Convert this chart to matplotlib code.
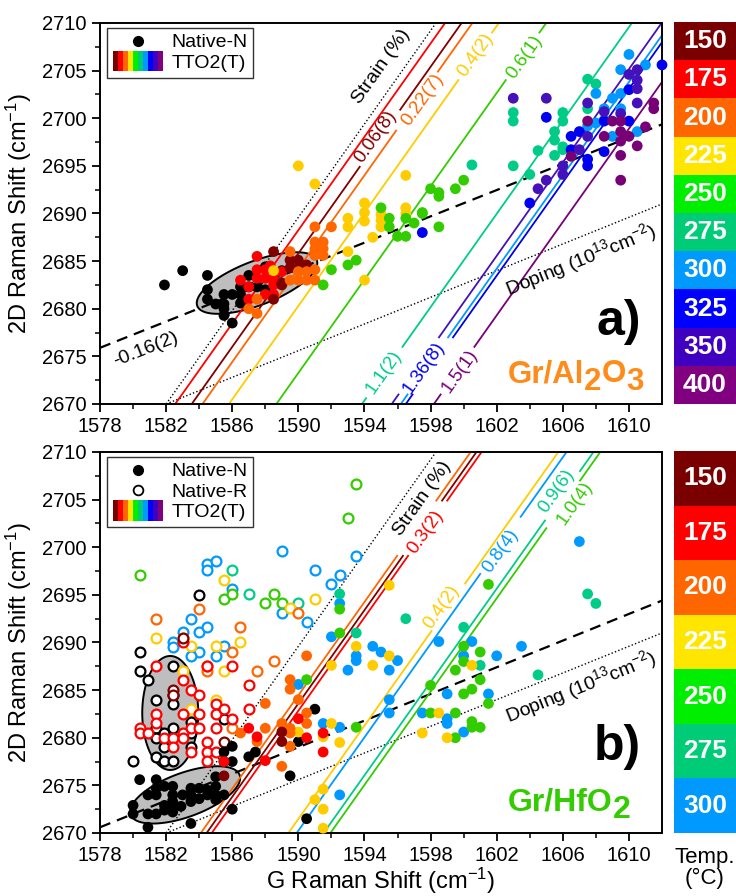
import numpy as np
import matplotlib
matplotlib.use('Agg')
import matplotlib.pyplot as plt
from matplotlib.patches import Rectangle, Polygon
from matplotlib.legend_handler import HandlerBase
from matplotlib.lines import Line2D

plt.rcParams['font.family'] = ['Liberation Sans', 'DejaVu Sans']
plt.rcParams['mathtext.fontset'] = 'custom'
plt.rcParams['mathtext.rm'] = 'Liberation Sans'
plt.rcParams['mathtext.it'] = 'Liberation Sans:italic'
plt.rcParams['mathtext.bf'] = 'Liberation Sans:bold'

# ---------------- data ----------------
XLIM = (1578, 1612)
YLIM = (2670, 2710)
xticks = [1578, 1582, 1586, 1590, 1594, 1598, 1602, 1606, 1610]
yticks = [2670, 2675, 2680, 2685, 2690, 2695, 2700, 2705, 2710]
STRAIN_SLOPE = 2.45
DOPING_SLOPE = 0.70
origin_g = 1582.0

temps_a = [150, 175, 200, 225, 250, 275, 300, 325, 350, 400]
temps_b = [150, 175, 200, 225, 250, 275, 300]

# Panel a scatter (G, 2D)
aN_g = [1581.9,1583.0,1584.5,1584.5,1584.5,1585.0,1585.5,1585.5,1585.5,1585.5,1586.0,1586.0,1586.5,1586.5,1586.5,1587.0,1587.0,1587.5,1588.0,1588.0,1588.5,1589.0]
aN_d = [2682.5,2684.0,2683.5,2682.0,2681.0,2680.5,2681.5,2680.5,2680.0,2679.3,2681.5,2678.5,2682.3,2681.5,2680.6,2683.5,2682.3,2682.3,2684.4,2682.0,2683.0,2684.0]
a175_g = [1587.5,1586.5,1587.0,1587.5,1587.5,1588.0,1588.0,1588.0,1588.5,1588.5,1588.5,1589.0,1587.0,1588.3]
a175_d = [2685.5,2683.0,2682.3,2683.2,2684.1,2684.1,2683.2,2681.5,2683.2,2681.5,2682.5,2683.9,2681.0,2684.5]
a150_g = [1588.5,1589.5,1590.0,1589.5,1590.0,1589.0,1590.5,1588.5,1589.0]
a150_d = [2686.0,2685.1,2685.1,2684.3,2684.3,2682.7,2684.6,2681.0,2682.5]
a200_g = [1589.5,1591.0,1592.0,1591.0,1591.5,1591.0,1591.5,1591.0,1591.5,1590.0,1590.5,1591.0,1589.5,1590.0,1590.5,1587.5,1587.0,1587.5,1591.0]
a200_d = [2686.0,2688.6,2688.6,2687.0,2687.0,2686.3,2686.3,2685.6,2685.6,2683.9,2683.9,2684.1,2683.0,2683.0,2683.0,2681.0,2680.0,2679.5,2683.0]
a225_g = [1590.0,1591.0,1594.0,1594.0,1594.0,1593.0,1593.0,1595.0,1595.0,1595.0,1596.5,1596.5,1596.5,1594.5,1593.0,1594.0,1588.5]
a225_d = [2695.0,2693.1,2691.1,2690.1,2689.2,2689.5,2688.6,2689.9,2689.3,2688.6,2694.0,2690.6,2690.0,2687.5,2686.0,2683.0,2684.0]
a250_g = [1595.0,1595.5,1595.5,1596.5,1596.5,1596.0,1597.0,1593.5,1593.0,1592.0,1591.5,1598.0,1598.5,1598.5,1599.5,1600.0,1597.5,1598.5,1597.5]
a250_d = [2690.6,2689.5,2688.6,2689.5,2687.6,2687.6,2689.0,2685.1,2684.6,2684.1,2682.5,2692.6,2692.2,2691.8,2692.6,2693.5,2690.1,2688.6,2690.0]
a275_g = [1603.0,1603.0,1603.0,1604.0,1604.5,1605.5,1605.5,1605.5,1606.0,1606.0,1606.0,1606.0,1607.5,1608.0,1607.5,1600.5]
a275_d = [2700.6,2699.7,2695.0,2694.1,2696.6,2698.6,2697.7,2696.1,2700.6,2699.7,2697.0,2696.7,2704.1,2703.6,2701.0,2695.1]
a300_g = [1610.0,1609.5,1611.0,1608.0,1609.5,1609.0,1608.5,1609.5,1608.0,1607.5,1609.0,1610.5,1608.5]
a300_d = [2706.7,2705.1,2705.6,2702.6,2702.6,2702.1,2701.0,2701.0,2699.5,2699.2,2698.1,2698.6,2699.8]
a325_g = [1605.0,1606.5,1607.0,1606.5,1607.5,1607.5,1608.5,1608.5,1610.0,1610.0,1612.0,1604.0,1597.5]
a325_d = [2700.1,2698.1,2698.6,2696.7,2695.7,2695.0,2696.5,2699.7,2703.0,2699.7,2705.6,2691.1,2688.0]
a350_g = [1603.0,1605.0,1604.5,1605.0,1606.0,1606.0,1607.5,1608.5,1609.5,1610.0,1610.5,1610.5,1610.5,1610.5,1607.5,1607.0]
a350_d = [2702.1,2702.1,2692.6,2693.5,2695.0,2694.1,2701.6,2700.7,2700.5,2704.6,2705.1,2704.0,2703.1,2701.6,2698.1,2696.7]
a400_g = [1607.5,1608.5,1609.0,1609.5,1609.5,1609.5,1610.0,1610.5,1609.5,1609.5,1611.0,1611.5,1611.5,1606.5]
a400_d = [2699.7,2698.1,2699.7,2699.7,2698.6,2697.6,2698.1,2697.1,2696.1,2693.5,2699.1,2701.6,2701.0,2696.0]

# Panel b scatter: filled (N / TTO2) and hollow (R)
bN_g = [1580.4,1580.0,1580.0,1580.9,1580.9,1580.9,1581.4,1581.4,1581.4,1581.4,1581.9,1581.9,1581.9,1582.4,1582.4,1582.4,1582.4,1582.4,1583.0,1583.5,1583.5,1583.5,1583.5,1584.0,1584.0,1584.5,1585.0,1585.0,1585.0,1585.5,1585.5,1585.5,1586.0,1586.0,1586.0,1587.0,1587.4,1590.0,1591.0,1589.5,1590.5,1584.5,1585.0,1582.9]
bN_d = [2675.6,2672.9,2672.0,2674.0,2672.0,2670.6,2675.6,2674.7,2674.0,2672.0,2674.9,2672.9,2672.4,2674.9,2674.0,2673.3,2672.8,2672.2,2674.0,2674.7,2674.0,2673.3,2671.0,2674.7,2673.6,2674.0,2675.9,2674.9,2674.0,2678.5,2677.5,2674.0,2679.1,2677.5,2672.5,2678.0,2678.5,2679.6,2683.0,2676.0,2671.5,2674.5,2673.5,2672.8]
bR_g = [1584.0,1580.4,1580.4,1580.9,1581.4,1582.4,1582.4,1582.4,1581.4,1581.4,1581.9,1581.9,1582.4,1581.4,1581.9,1582.4,1583.5,1583.5,1583.5,1580.0,1585.5]
bR_d = [2695.0,2689.0,2687.0,2686.1,2684.0,2687.5,2684.5,2683.5,2681.0,2680.0,2680.5,2679.0,2681.0,2678.0,2677.6,2677.6,2681.7,2680.5,2679.0,2677.6,2682.0]

b150f_g = [1589.0,1585.5,1589.0]
b150f_d = [2679.6,2676.0,2680.6]
b175f_g = [1587.0,1585.5,1588.0,1590.0,1590.5,1591.5,1591.5,1587.5]
b175f_d = [2681.0,2677.5,2677.6,2682.0,2680.0,2680.5,2678.5,2680.1]
b200f_g = [1590.5,1589.5,1589.5,1588.0,1590.5,1590.5,1590.0,1588.0,1589.0,1589.5,1589.5,1586.5,1587.5,1589.0,1589.5]
b200f_d = [2688.6,2686.1,2685.1,2683.6,2682.6,2681.5,2684.0,2681.0,2681.5,2681.0,2680.5,2680.5,2679.6,2677.0,2679.1]
b225f_g = [1593.5,1592.0,1594.5,1595.5,1600.5,1598.5,1597.5,1599.0,1590.0,1591.5,1592.0,1592.5,1591.0,1591.5,1591.5,1591.5,1595.5]
b225f_d = [2689.6,2687.6,2687.6,2688.6,2687.6,2682.6,2680.5,2680.0,2680.6,2680.1,2681.5,2679.5,2673.5,2674.6,2672.5,2670.5,2696.0]
b250f_g = [1592.5,1592.5,1590.5,1593.5,1598.0,1598.0,1599.5,1600.0,1600.0,1601.0,1601.0,1600.5,1600.0,1599.5,1600.5,1600.5,1601.0,1599.5,1601.5,1601.5]
b250f_d = [2693.5,2691.0,2686.1,2681.1,2685.5,2682.6,2687.1,2689.6,2688.0,2689.0,2686.1,2685.1,2684.6,2682.6,2681.7,2681.1,2681.1,2680.0,2683.6,2696.1]
b275f_g = [1596.5,1593.5,1600.0,1601.0,1604.5,1592.5,1607.5,1608.0]
b275f_d = [2692.5,2691.0,2691.6,2687.6,2686.6,2695.1,2695.1,2694.1]
b300f_g = [1592.5,1592.0,1593.5,1593.5,1593.0,1594.5,1595.0,1595.5,1596.0,1598.5,1600.0,1600.5,1602.0,1603.5,1599.0,1601.5,1595.5,1595.5,1597.5,1599.0,1599.0,1600.0,1591.5,1592.5,1590.0,1592.5,1607.0]
b300f_d = [2694.1,2690.6,2688.6,2688.1,2687.1,2689.6,2689.0,2687.1,2688.1,2690.1,2688.6,2690.1,2688.6,2689.6,2684.6,2684.6,2684.0,2682.6,2682.6,2682.0,2681.5,2680.6,2681.5,2681.1,2685.6,2674.0,2700.6]

b150h_g = [1582.4,1582.4,1583.0,1585.5]
b150h_d = [2685.0,2684.5,2690.5,2679.6]
b175h_g = [1583.0,1581.4,1583.0,1583.5,1584.0,1581.4,1581.4,1583.0,1584.0,1580.4,1580.4,1580.9,1581.9,1582.4,1582.4,1583.0,1583.0,1583.5,1583.5,1584.0,1584.5,1585.0,1585.0,1585.5,1586.0,1585.0,1584.5,1584.5,1584.5,1585.0,1586.0,1587.0,1587.0]
b175h_d = [2690.1,2687.5,2686.1,2685.0,2684.5,2682.5,2681.6,2682.5,2682.5,2681.0,2680.5,2680.5,2680.0,2680.0,2679.0,2680.5,2680.0,2681.0,2678.5,2681.0,2687.5,2683.5,2682.5,2683.0,2682.0,2681.0,2679.6,2678.5,2677.6,2678.5,2687.5,2685.5,2683.0]
b200h_g = [1581.4,1584.0,1586.5,1586.0,1584.5,1587.5,1588.5,1590.0,1586.0,1584.5]
b200h_d = [2692.5,2693.5,2691.6,2689.0,2687.0,2687.0,2688.1,2693.1,2681.0,2687.5]
b225h_g = [1581.4,1585.5,1583.5,1585.0,1586.5,1585.5,1583.0,1583.5,1585.0,1589.5,1591.0,1583.0]
b225h_d = [2690.5,2696.6,2689.6,2689.6,2690.1,2687.0,2687.0,2683.0,2684.0,2693.6,2694.6,2690.5]
b250h_g = [1580.4,1585.5,1586.0,1588.0,1588.5,1589.0,1593.5,1593.0]
b250h_d = [2697.1,2694.6,2695.1,2694.1,2695.1,2694.1,2706.6,2703.1]
b275h_g = [1586.0,1587.0,1590.0]
b275h_d = [2697.6,2695.1,2694.1]
b300h_g = [1584.5,1584.5,1585.0,1586.0,1583.5,1583.0,1582.4,1582.4,1584.0,1584.0,1584.5,1583.5,1585.5,1585.0,1589.0,1589.0,1590.5,1591.0,1592.0,1592.5,1593.5]
b300h_d = [2698.2,2697.6,2698.6,2695.6,2692.5,2691.1,2690.1,2689.5,2691.1,2689.0,2691.6,2688.6,2689.6,2688.6,2699.6,2693.1,2692.1,2697.6,2696.1,2697.1,2699.1]

# Fitted strain lines: temperature, G intercept at 2D = 2670, label
a_line_T = [175, 150, 200, 225, 250, 275, 350, 300, 325, 400]
a_line_g0 = [1582.55, 1583.55, 1584.2, 1585.8, 1588.67, 1593.85, 1595.65, 1596.2, 1596.5, 1598.2]
a_line_lab = ['', '0.06(8)', '0.22(7)', '0.4(2)', '0.6(1)', '1.1(2)', '', '', '1.36(8)', '1.5(1)']
b_line_T = [200, 150, 175, 225, 300, 275, 250]
b_line_g0 = [1584.1, 1584.45, 1584.76, 1589.4, 1589.9, 1591.53, 1591.94]
b_line_lab = ['', '', '0.3(2)', '0.4(2)', '0.8(4)', '0.9(6)', '1.0(4)']

# dashed fit lines (2D at G = 1578, slope)
a_fit = (2675.9, 0.69, '-0.16(2)')
b_fit = (2670.6, 0.70, '')

# ---------------- style ----------------
PT = {150: '#800000', 175: '#FF0000', 200: '#FF6600', 225: '#FFCC00', 250: '#33CC00',
      275: '#00CC88', 300: '#0099FF', 325: '#0000EE', 350: '#4411BB', 400: '#770077'}
BOX = {150: '#7A0000', 175: '#FF0000', 200: '#FF6600', 225: '#FFE600', 250: '#00EE00',
       275: '#00CC77', 300: '#0099FF', 325: '#0000FF', 350: '#4000BF', 400: '#800080'}

# layout (pixel-based)
W, H = 736, 896
fig = plt.figure(figsize=(W / 100, H / 100), dpi=100)

def fr(l, t, r, b):
    return [l / W, 1 - b / H, (r - l) / W, (b - t) / H]

axA = fig.add_axes(fr(100, 23, 662, 404))
axB = fig.add_axes(fr(100, 452, 662, 833))
cbA = fig.add_axes(fr(674, 22, 736, 404))
cbB = fig.add_axes(fr(674, 451, 736, 833))

SX = 562 / (XLIM[1] - XLIM[0])   # px per cm-1 (x)
SY = 381 / (YLIM[1] - YLIM[0])   # px per cm-1 (y)

def disp_angle(slope):
    return np.degrees(np.arctan(slope * SY / SX))

def setup(ax):
    ax.set_xlim(*XLIM)
    ax.set_ylim(*YLIM)
    ax.set_xticks(xticks)
    ax.set_yticks(yticks)
    ax.set_xticks(np.arange(1580, 1612, 4), minor=True)
    ax.set_yticks(np.arange(2672.5, 2710, 5), minor=True)
    ax.tick_params(which='major', direction='out', length=6, width=1.3, labelsize=14.5,
                   top=False, right=False)
    ax.tick_params(which='minor', direction='out', length=3.5, width=1.1, top=False, right=False)
    for s in ax.spines.values():
        s.set_linewidth(1.4)
    ax.set_ylabel('2D Raman Shift (cm$^{-1}$)', fontsize=17)
    ax.yaxis.set_label_coords(-0.118, 0.5)

def ellipse(ax, cx, cy, a_px, b_px, ang):
    t = np.linspace(0, 2 * np.pi, 200)
    th = np.radians(ang)
    dx = a_px * np.cos(t) * np.cos(th) - b_px * np.sin(t) * np.sin(th)
    dy = a_px * np.cos(t) * np.sin(th) + b_px * np.sin(t) * np.cos(th)
    pts = np.column_stack([cx + dx / SX, cy + dy / SY])
    ax.add_patch(Polygon(pts, closed=True, facecolor='#BEBEBE', edgecolor='black', lw=1.4, zorder=1))

def strain_line(ax, g0, color, gap=None):
    y0, y1 = YLIM
    if gap is None:
        segs = [(y0, y1)]
    else:
        segs = [(y0, gap[0] - gap[1]), (gap[0] + gap[1], y1)]
    for ya, yb in segs:
        ys = np.array([ya, yb])
        ax.plot(g0 + (ys - YLIM[0]) / STRAIN_SLOPE, ys, color=color, lw=1.3, zorder=2)

def rot_text(ax, x, y, s, color, slope, size=13.5):
    ax.text(x, y, s, color=color, fontsize=size, rotation=disp_angle(slope),
            rotation_mode='anchor', ha='center', va='center', zorder=5)

def ref_lines(ax):
    ys = np.array([YLIM[0], YLIM[1]])
    ax.plot(origin_g + (ys - YLIM[0]) / STRAIN_SLOPE, ys, color='black', lw=1.0,
            ls=(0, (1, 1.6)), zorder=2)
    xs = np.array([origin_g, XLIM[1]])
    ax.plot(xs, YLIM[0] + DOPING_SLOPE * (xs - origin_g), color='black', lw=1.0,
            ls=(0, (1, 1.6)), zorder=2)

def fit_line(ax, fit):
    xs = np.array(XLIM)
    ax.plot(xs, fit[0] + fit[1] * (xs - XLIM[0]), color='black', lw=1.6,
            ls=(0, (5, 3.2)), zorder=2)

def filled(ax, g, d, c):
    ax.scatter(g, d, s=60, c=c, edgecolors='none', zorder=3, clip_on=False)

def hollow(ax, g, d, c):
    ax.scatter(g, d, s=50, facecolors='white', edgecolors=c, linewidths=1.6, zorder=3)

def formula(ax, x, y, parts, color, size, shift):
    t = ax.text(x, y, parts[0], color=color, fontsize=size, fontweight='bold',
                ha='left', va='baseline', zorder=6)
    prev = t
    sub = False
    for p in parts[1:]:
        if p.isdigit():
            off = -shift
            sub = True
        else:
            off = shift if sub else 0
            sub = False
        prev = ax.annotate(p, xy=(1, 0), xycoords=prev, xytext=(0, off),
                           textcoords='offset points', ha='left', va='bottom',
                           color=color, fontsize=size, fontweight='bold', zorder=6)

class RainbowHandle:
    pass

class RainbowHandler(HandlerBase):
    def __init__(self, colors):
        super().__init__()
        self.colors = colors
    def create_artists(self, legend, orig_handle, xdescent, ydescent, width, height, fontsize, trans):
        n = len(self.colors)
        arts = []
        for i, c in enumerate(self.colors):
            r = Rectangle((-xdescent + i * width / n, -ydescent - 0.25 * height), width / n,
                          height * 1.5, facecolor=c, edgecolor='none', transform=trans)
            arts.append(r)
        return arts

rain_cols = [BOX[t] for t in temps_a]

def legend(ax, with_r, anchor):
    hs = [Line2D([], [], marker='o', ls='', color='black', markersize=7)]
    ls = ['Native-N']
    if with_r:
        hs.append(Line2D([], [], marker='o', ls='', markerfacecolor='white',
                         markeredgecolor='black', markeredgewidth=1.3, markersize=7))
        ls.append('Native-R')
    hs.append(RainbowHandle())
    ls.append('TTO2(T)')
    lg = ax.legend(hs, ls, loc='upper left', bbox_to_anchor=anchor, borderaxespad=0,
                   fontsize=14, frameon=True, fancybox=False, edgecolor='black',
                   handlelength=2.6, handletextpad=0.4, borderpad=0.3, labelspacing=0.15,
                   markerfirst=True, handler_map={RainbowHandle: RainbowHandler(rain_cols)})
    lg.get_frame().set_linewidth(1.0)
    lg.set_zorder(10)

def colorbar(cax, temps):
    n = len(temps)
    cax.set_xlim(0, 1)
    cax.set_ylim(0, n)
    for i, t in enumerate(temps):
        y = n - 1 - i
        cax.add_patch(Rectangle((0, y), 1, 1, facecolor=BOX[t], edgecolor='none'))
        cax.text(0.5, y + 0.5, str(t), color='white', fontsize=19, fontweight='bold',
                 ha='center', va='center')
    cax.axis('off')

# ---------------- panel a ----------------
setup(axA)
ellipse(axA, 1587.5, 2682.7, 64, 22, 21)
ref_lines(axA)
fit_line(axA, a_fit)
a_gaps = {1: (2697.9, 3.0), 2: (2701.8, 3.1), 3: (2706.5, 2.5), 4: (2706.5, 2.5),
          5: (2673.3, 2.7), 6: (2674.0, 3.0), 7: (2674.0, 3.0), 8: (2674.0, 3.0), 9: (2673.5, 2.5)}
for i, (T, g0) in enumerate(zip(a_line_T, a_line_g0)):
    strain_line(axA, g0, PT[T], a_gaps.get(i))
a_lab_pos = {1: (1594.67, 2698.1), 2: (1597.5, 2701.9), 3: (1600.73, 2706.6), 4: (1603.7, 2706.45),
             5: (1595.2, 2673.3), 8: (1597.58, 2673.8), 9: (1599.8, 2673.5)}
for i, lab in enumerate(a_line_lab):
    if lab:
        x, y = a_lab_pos[i]
        rot_text(axA, x, y, lab, PT[a_line_T[i]], STRAIN_SLOPE)
rot_text(axA, 1595.0, 2705.4, 'Strain (%)', 'black', STRAIN_SLOPE, 14)
rot_text(axA, 1607.1, 2685.1, 'Doping (10$^{13}$cm$^{-2}$)', 'black', DOPING_SLOPE, 14)
rot_text(axA, 1580.8, 2675.7, a_fit[2], 'black', a_fit[1], 14)

filled(axA, aN_g, aN_d, 'black')
for g, d, T in [(a175_g, a175_d, 175), (a150_g, a150_d, 150), (a200_g, a200_d, 200),
                (a225_g, a225_d, 225), (a250_g, a250_d, 250), (a275_g, a275_d, 275),
                (a300_g, a300_d, 300), (a325_g, a325_d, 325), (a350_g, a350_d, 350),
                (a400_g, a400_d, 400)]:
    filled(axA, g, d, PT[T])

axA.text(1609.4, 2678.6, 'a)', fontsize=36, fontweight='bold', ha='center', va='center', zorder=6)
formula(axA, 1602.67, 2672.3, ['Gr/Al', '2', 'O', '3'], '#FF8C1A', 22.5, 6)
legend(axA, False, (0.0125, 0.987))
colorbar(cbA, temps_a)

# ---------------- panel b ----------------
setup(axB)
ellipse(axB, 1582.25, 2682.6, 57, 28, 90)
ellipse(axB, 1583.15, 2674.0, 58, 22, 20)
ref_lines(axB)
fit_line(axB, b_fit)
b_gaps = {0: (2702.0, 2.9), 1: (2702.0, 2.9), 2: (2702.0, 2.9), 3: (2693.7, 2.5),
          4: (2700.2, 3.0), 5: (2705.4, 2.6), 6: (2704.5, 2.5)}
for i, (T, g0) in enumerate(zip(b_line_T, b_line_g0)):
    strain_line(axB, g0, PT[T], b_gaps.get(i))
b_lab_pos = {2: (1597.7, 2701.6), 3: (1598.67, 2693.74), 4: (1602.2, 2699.6),
             5: (1605.6, 2705.9), 6: (1606.7, 2704.66)}
for i, lab in enumerate(b_line_lab):
    if lab:
        x, y = b_lab_pos[i]
        rot_text(axB, x, y, lab, PT[b_line_T[i]], STRAIN_SLOPE)
rot_text(axB, 1597.5, 2705.1, 'Strain (%)', 'black', STRAIN_SLOPE, 14)
rot_text(axB, 1607.1, 2685.3, 'Doping (10$^{13}$cm$^{-2}$)', 'black', DOPING_SLOPE, 14)

hollow(axB, bR_g, bR_d, 'black')
for g, d, T in [(b300h_g, b300h_d, 300), (b275h_g, b275h_d, 275), (b250h_g, b250h_d, 250),
                (b225h_g, b225h_d, 225), (b200h_g, b200h_d, 200), (b175h_g, b175h_d, 175),
                (b150h_g, b150h_d, 150)]:
    hollow(axB, g, d, PT[T])
filled(axB, bN_g, bN_d, 'black')
for g, d, T in [(b300f_g, b300f_d, 300), (b275f_g, b275f_d, 275), (b250f_g, b250f_d, 250),
                (b225f_g, b225f_d, 225), (b200f_g, b200f_d, 200), (b175f_g, b175f_d, 175),
                (b150f_g, b150f_d, 150)]:
    filled(axB, g, d, PT[T])

axB.text(1609.3, 2679.0, 'b)', fontsize=36, fontweight='bold', ha='center', va='center', zorder=6)
formula(axB, 1602.67, 2672.4, ['Gr/HfO', '2'], '#33CC00', 23, 6)
axB.set_xlabel('G Raman Shift (cm$^{-1}$)', fontsize=17)
axB.xaxis.set_label_coords(0.5, -0.085)
legend(axB, True, (0.0125, 0.987))
colorbar(cbB, temps_b)

fig.text(705 / W, 1 - 868 / H, 'Temp.\n(°C)', ha='center', va='center', fontsize=16,
         linespacing=1.05)

fig.savefig('out.png', dpi=100)
